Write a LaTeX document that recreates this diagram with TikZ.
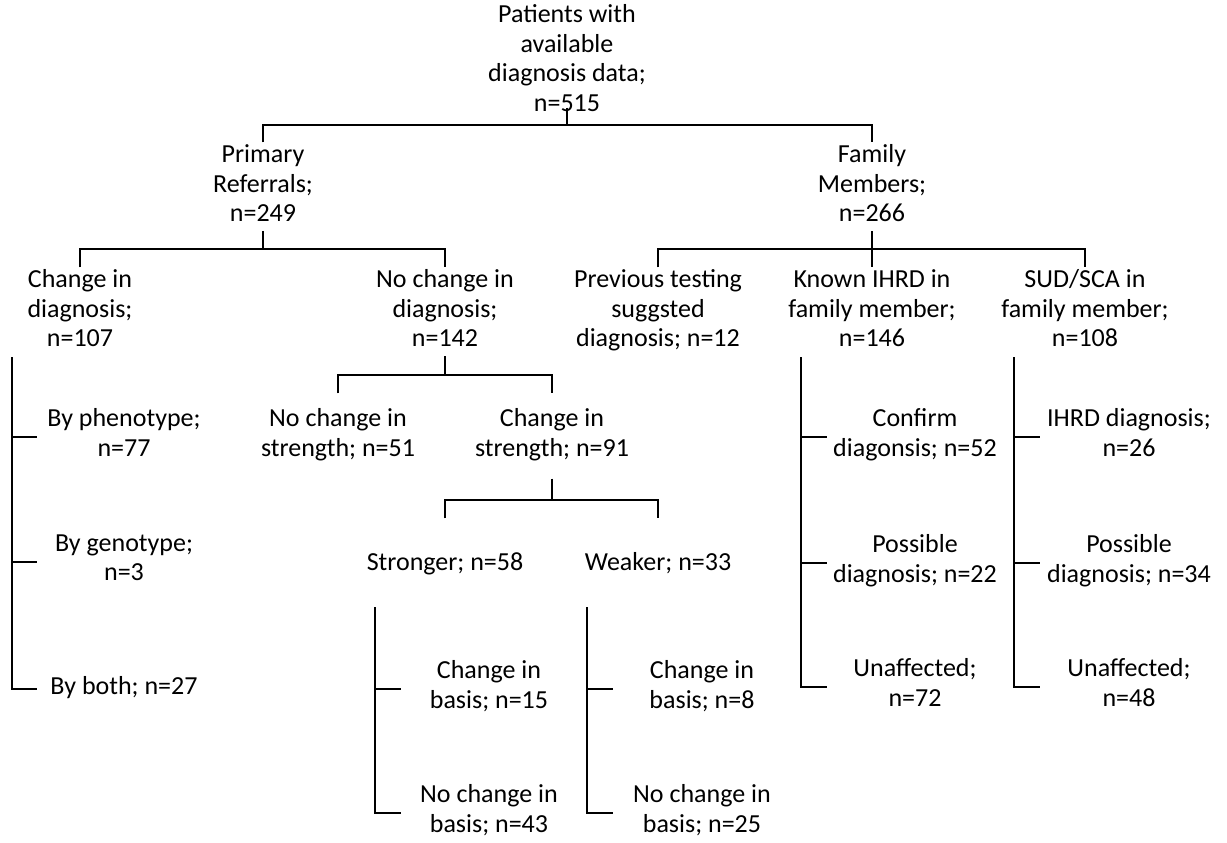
\documentclass[tikz,border=0pt]{standalone}
\usepackage{fontspec}
\setmainfont{Carlito}
\tikzset{
  lbl/.style={align=center, inner sep=0pt, anchor=north, font=\fontsize{13}{14.75}\selectfont,
    execute at begin node=\strut, execute at end node=\strut},
  tree/.style={line width=1pt}
}
\begin{document}
\begin{tikzpicture}[x=0.5pt, y=-0.5pt]

    \useasboundingbox (0,0) rectangle (1227,842);

    \node[lbl] (root) at (567,4.4) {Patients with\\available\\diagnosis data;\\n=515};

    \node[lbl] (pr) at (263,144.4) {Primary\\Referrals;\\n=249};
    \node[lbl] (fm) at (872,144.4) {Family\\Members;\\n=266};

    \node[lbl] (cid) at (80,269.4) {Change in\\diagnosis;\\n=107};
    \node[lbl] (ncd) at (445,269.4) {No change in\\diagnosis;\\n=142};
    \node[lbl] (ptest) at (658,269.4) {Previous testing\\suggsted\\diagnosis; n=12};
    \node[lbl] (kih) at (872,269.4) {Known IHRD in\\family member;\\n=146};
    \node[lbl] (sud) at (1085,269.4) {SUD/SCA in\\family member;\\n=108};

    \node[lbl] (phen) at (124,408.4) {By phenotype;\\n=77};
    \node[lbl] (gen) at (124,534.4) {By genotype;\\n=3};
    \node[lbl] (both) at (124,673.4) {By both; n=27};

    \node[lbl] (ncs) at (338,408.4) {No change in\\strength; n=51};
    \node[lbl] (cis) at (552,408.4) {Change in\\strength; n=91};

    \node[lbl] (strong) at (445,549.4) {Stronger; n=58};
    \node[lbl] (weak) at (658,549.4) {Weaker; n=33};

    \node[lbl] (scb) at (489,660.4) {Change in\\basis; n=15};
    \node[lbl] (sncb) at (489,784.4) {No change in\\basis; n=43};
    \node[lbl] (wcb) at (702,660.4) {Change in\\basis; n=8};
    \node[lbl] (wncb) at (702,784.4) {No change in\\basis; n=25};

    \node[lbl] (conf) at (915,408.4) {Confirm\\diagonsis; n=52};
    \node[lbl] (kposs) at (915,534.4) {Possible\\diagnosis; n=22};
    \node[lbl] (kunaff) at (915,658.4) {Unaffected;\\n=72};

    \node[lbl] (ihrd) at (1129,408.4) {IHRD diagnosis;\\n=26};
    \node[lbl] (sposs) at (1129,534.4) {Possible\\diagnosis; n=34};
    \node[lbl] (sunaff) at (1129,658.4) {Unaffected;\\n=48};

    \coordinate (rootbar) at (567,125);
    \draw[tree] ([yshift=6.5pt]root.south) -- (rootbar);
    \draw[tree] ([yshift=1pt]pr.north) |- (rootbar) -| ([yshift=1pt]fm.north);

    \coordinate (prbar) at (263,249);
    \draw[tree] (pr.south) -- (prbar);
    \draw[tree] ([yshift=1pt]cid.north) |- (prbar) -| ([yshift=1pt]ncd.north);

    \coordinate (fmbar) at (872,249);
    \draw[tree] (fm.south) -- (fmbar);
    \draw[tree] ([yshift=1pt]ptest.north) |- (fmbar) -| ([yshift=1pt]sud.north);
    \draw[tree] (fmbar) -- ([yshift=1pt]kih.north);

    \coordinate (ncdbar) at (445,375);
    \draw[tree] (ncd.south) -- (ncdbar);
    \draw[tree] ([yshift=7.5pt]ncs.north) |- (ncdbar) -| ([yshift=7.5pt]cis.north);

    \coordinate (cisbar) at (552,500);
    \draw[tree] ([yshift=-6.5pt]cis.south) -- (cisbar);
    \draw[tree] ([yshift=15.5pt]strong.north) |- (cisbar) -| ([yshift=15.5pt]weak.north);

    \coordinate (cidrake) at (12,357);
    \draw[tree] (cidrake) -- (cidrake |- both.west) -- ++(25,0);
    \draw[tree] (cidrake |- phen.west) -- ++(25,0);
    \draw[tree] (cidrake |- gen.west) -- ++(25,0);

    \coordinate (kihrake) at (801,357);
    \draw[tree] (kihrake) -- (kihrake |- kunaff.west) -- ++(26,0);
    \draw[tree] (kihrake |- conf.west) -- ++(26,0);
    \draw[tree] (kihrake |- kposs.west) -- ++(26,0);

    \coordinate (sudrake) at (1014,357);
    \draw[tree] (sudrake) -- (sudrake |- sunaff.west) -- ++(26,0);
    \draw[tree] (sudrake |- ihrd.west) -- ++(26,0);
    \draw[tree] (sudrake |- sposs.west) -- ++(26,0);

    \coordinate (strongrake) at (375,607);
    \draw[tree] (strongrake) -- (strongrake |- sncb.west) -- ++(26,0);
    \draw[tree] (strongrake |- scb.west) -- ++(26,0);

    \coordinate (weakrake) at (587,607);
    \draw[tree] (weakrake) -- (weakrake |- wncb.west) -- ++(26,0);
    \draw[tree] (weakrake |- wcb.west) -- ++(26,0);

\end{tikzpicture}
\end{document}
